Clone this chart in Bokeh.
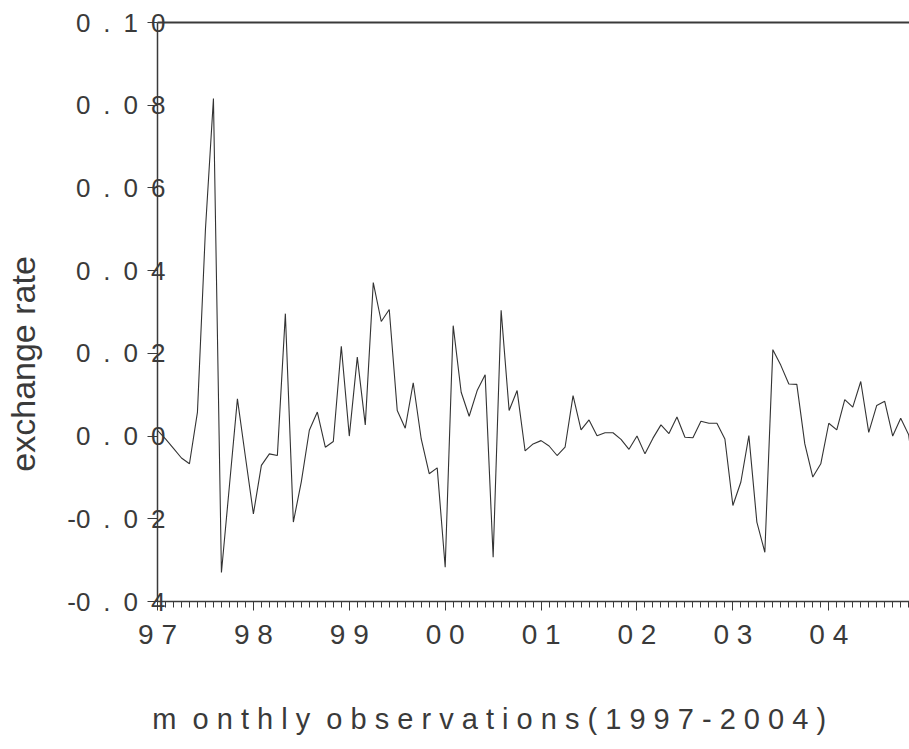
from bokeh.plotting import figure
from bokeh.models import FixedTicker, LinearAxis, Range1d
from bokeh.embed import file_html
from bokeh.resources import INLINE

# ---- data: monthly observations, Jan 1997 .. Dec 2004 ----
start_year = 1997
values = [
    0.0014, -0.0007, -0.0030, -0.0053, -0.0067, 0.0058, 0.0500, 0.0816,
    -0.0330, -0.0120, 0.0090, -0.0050, -0.0188, -0.0071, -0.0043, -0.0047,
    0.0296, -0.0208, -0.0110, 0.0014, 0.0058, -0.0027, -0.0013, 0.0217,
    0.0000, 0.0191, 0.0027, 0.0371, 0.0277, 0.0306, 0.0062, 0.0019,
    0.0129, -0.0007, -0.0091, -0.0077, -0.0317, 0.0267, 0.0106, 0.0048,
    0.0110, 0.0148, -0.0293, 0.0304, 0.0062, 0.0110, -0.0036, -0.0019,
    -0.0011, -0.0024, -0.0047, -0.0027, 0.0098, 0.0015, 0.0039, 0.0001,
    0.0008, 0.0008, -0.0008, -0.0032, 0.0000, -0.0043, -0.0005, 0.0027,
    0.0006, 0.0046, -0.0003, -0.0004, 0.0036, 0.0031, 0.0031, -0.0007,
    -0.0168, -0.0111, 0.0001, -0.0208, -0.0281, 0.0209, 0.0171, 0.0126,
    0.0125, -0.0019, -0.0099, -0.0067, 0.0031, 0.0015, 0.0088, 0.0070,
    0.0132, 0.0009, 0.0074, 0.0084, 0.0000, 0.0043, 0.0003, -0.0150,
]
times = [start_year + k / 12 for k in range(len(values))]

year_ticks = [1997, 1998, 1999, 2000, 2001, 2002, 2003, 2004]
year_labels = ["9 7", "9 8", "9 9", "0 0", "0 1", "0 2", "0 3", "0 4"]
month_ticks = [start_year + k / 12 for k in range(12 * 9)]

y_ticks = [-0.04, -0.02, 0.0, 0.02, 0.04, 0.06, 0.08, 0.10]
E = "\u2002"
y_labels = ["-0" + E + "." + E + "0" + E + "4",
            "-0" + E + "." + E + "0" + E + "2",
            "0" + E + "." + E + "0" + E + "0",
            "0" + E + "." + E + "0" + E + "2",
            "0" + E + "." + E + "0" + E + "4",
            "0" + E + "." + E + "0" + E + "6",
            "0" + E + "." + E + "0" + E + "8",
            "0" + E + "." + E + "1" + E + "0"]

N = "\u00a0"
x_title = "m" + N + N + "o n t h l y" + N + N + "o b s e r v a t i o n s" + N + "( 1 9 9 7 - 2 0 0 4 )"
y_title = "exchange rate"

FONT = "'Liberation Sans', Arial, sans-serif"
INK = "#3a3a3a"

p = figure(width=909, height=749,
           x_range=Range1d(1997, 1997 + 94.1 / 12),
           y_range=Range1d(-0.04, 0.10),
           output_backend="svg", toolbar_location=None,
           min_border_left=157, min_border_right=0,
           min_border_top=22, min_border_bottom=148)
p.outline_line_color = None
p.xgrid.visible = False
p.ygrid.visible = False
p.background_fill_color = "white"
p.border_fill_color = "white"

p.line(times, values, line_color="#333333", line_width=1.1)

xa = p.xaxis[0]
xa.ticker = FixedTicker(ticks=year_ticks, minor_ticks=month_ticks)
xa.major_label_overrides = dict(zip(year_ticks, year_labels))
xa.major_tick_out = 9
xa.major_tick_in = 0
xa.minor_tick_out = 6
xa.minor_tick_in = 0
xa.major_label_standoff = 8
xa.major_label_text_font = FONT
xa.major_label_text_font_size = "28px"
xa.major_label_text_color = INK
xa.axis_line_color = INK
xa.axis_line_width = 1.5
xa.major_tick_line_color = INK
xa.minor_tick_line_color = INK
# trailing no-break spaces shift the centred title to the left, as in the original
xa.axis_label = x_title + N * 11
xa.axis_label_standoff = 50
xa.axis_label_text_font = FONT
xa.axis_label_text_font_size = "29px"
xa.axis_label_text_font_style = "normal"
xa.axis_label_text_color = INK

ya = p.yaxis[0]
ya.ticker = FixedTicker(ticks=y_ticks)
ya.major_label_overrides = dict(zip(y_ticks, y_labels))
ya.major_tick_out = 10
ya.major_tick_in = 0
ya.minor_tick_line_color = None
ya.major_label_standoff = -18
ya.major_label_text_font = FONT
ya.major_label_text_font_size = "26px"
ya.major_label_text_color = INK
ya.axis_line_color = INK
ya.axis_line_width = 1.5
ya.major_tick_line_color = INK
ya.axis_label = y_title + N * 11
ya.axis_label_standoff = 22
ya.axis_label_text_font = FONT
ya.axis_label_text_font_size = "34px"
ya.axis_label_text_font_style = "normal"
ya.axis_label_text_color = INK

top = LinearAxis(ticker=FixedTicker(ticks=[]), major_tick_line_color=None,
                 minor_tick_line_color=None, axis_line_color=INK,
                 axis_line_width=2, major_label_text_font_size="0px")
p.add_layout(top, "above")

open("out.html", "w").write(file_html(p, INLINE))
